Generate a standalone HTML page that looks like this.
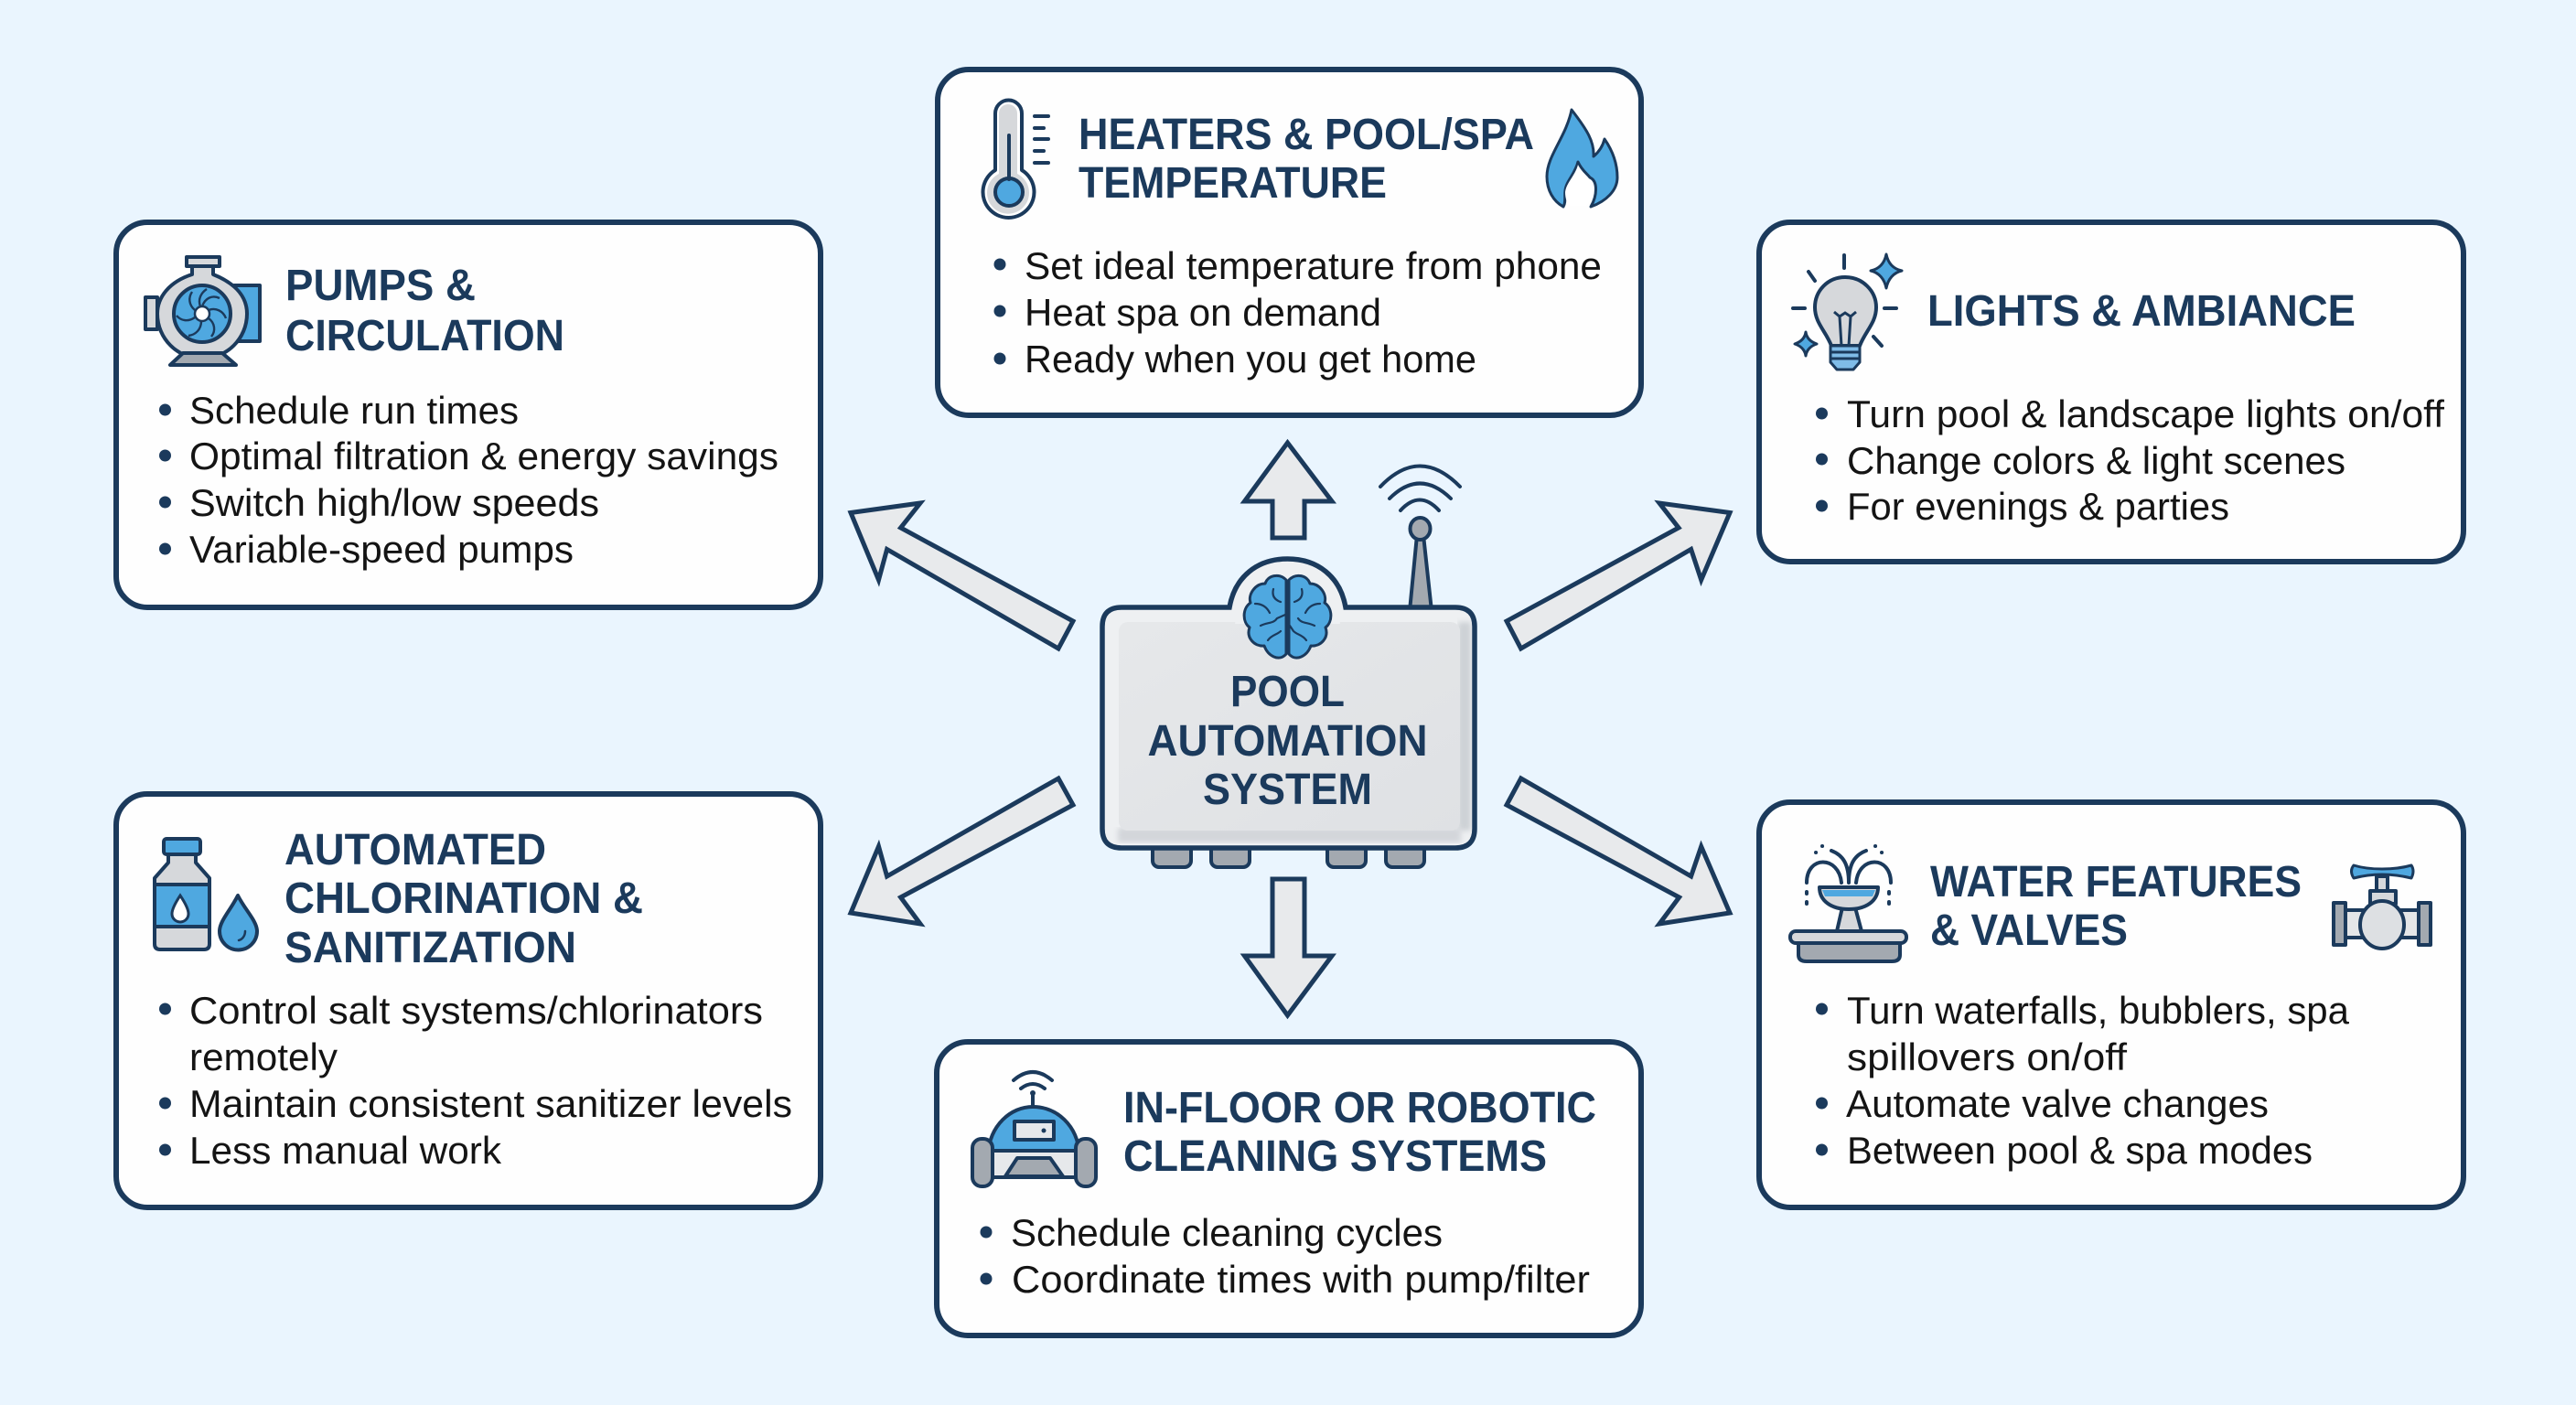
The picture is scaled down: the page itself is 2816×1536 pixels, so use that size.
<!DOCTYPE html>
<html lang="en">
<head>
<meta charset="utf-8">
<title>Pool Automation System</title>
<style>
html,body{margin:0;padding:0;background:#EAF5FE;}
svg{display:block;}
text{font-family:"Liberation Sans",Arial,sans-serif;}
.t{font-size:48px;font-weight:700;fill:#1B3A5C;transform:translateX(-2px);}
.c{transform:none;}
.b{font-size:42px;fill:#141414;transform:translateX(-1px);}
.card{fill:#FEFEFE;stroke:#1B3A5C;stroke-width:6;}
.arrow{fill:#E8EAEC;stroke:#1B3A5C;stroke-width:5;stroke-linejoin:miter;}
.dot{fill:#1B3A5C;}
.n{stroke:#1B3A5C;stroke-width:4;stroke-linejoin:round;stroke-linecap:round;}
.nl{fill:none;stroke:#1B3A5C;stroke-width:4;stroke-linecap:round;stroke-linejoin:round;}
.blue{fill:#4FA8E0;}
.gray{fill:#D6D8DB;}
.dgray{fill:#A3A9B0;}
</style>
</head>
<body>
<svg width="2816" height="1536" viewBox="0 0 2816 1536" xmlns="http://www.w3.org/2000/svg">
<defs>
<linearGradient id="panel" x1="0" y1="0" x2="1" y2="1">
<stop offset="0" stop-color="#E6E8EA"/><stop offset="1" stop-color="#DFE1E4"/>
</linearGradient>
<filter id="soft" x="-5%" y="-5%" width="110%" height="110%"><feGaussianBlur stdDeviation="3"/></filter>
</defs>
<rect width="2816" height="1536" fill="#EAF5FE"/>

<!-- Cards -->
<rect class="card" x="127" y="243" width="770" height="421" rx="34"/>
<rect class="card" x="1025" y="76" width="769" height="378" rx="34"/>
<rect class="card" x="1923" y="243" width="770" height="371" rx="34"/>
<rect class="card" x="127" y="868" width="770" height="452" rx="34"/>
<rect class="card" x="1923" y="877" width="770" height="443" rx="34"/>
<rect class="card" x="1024" y="1139" width="770" height="321" rx="34"/>

<!-- Arrows -->
<polygon class="arrow" points="1407.5,484 1456,548 1426,548 1426,588 1391,588 1391,548 1360.5,548"/>
<polygon class="arrow" points="1391,961 1426,961 1426,1045 1456,1045 1407.5,1110 1360.5,1045 1391,1045"/>
<polygon class="arrow" points="930,560.5 1006,550 984.6,577 1173,679 1157,709 969.6,600.5 960.5,634"/>
<polygon class="arrow" points="1891,560.5 1814,550 1835,577 1647,679 1662.6,709 1848.6,600.5 1859.7,634"/>
<polygon class="arrow" points="1157,851 1173,880 984.6,981 1006,1010 930,998 960.5,925.4 969.6,958"/>
<polygon class="arrow" points="1662.6,851 1647,880 1835.6,981 1814,1010 1891,998 1859.7,925.4 1848.6,958"/>

<!-- Center device -->
<g>
  <path class="dgray n" d="M1541 668 L1549 585 H1556 L1565 668 Z"/>
  <ellipse class="dgray n" cx="1552.5" cy="578" rx="11" ry="12"/>
  <path class="nl" d="M1531 558 Q1552 535 1573 558"/>
  <path class="nl" d="M1519 545 Q1552 512 1586 545"/>
  <path class="nl" d="M1509 532 Q1552 487 1596 532"/>
  <rect class="dgray n" x="1260" y="922" width="42" height="26" rx="7"/>
  <rect class="dgray n" x="1324" y="922" width="42" height="26" rx="7"/>
  <rect class="dgray n" x="1451" y="922" width="42" height="26" rx="7"/>
  <rect class="dgray n" x="1515" y="922" width="42" height="26" rx="7"/>
  <path d="M1226 664 H1344 C1350 630 1375 611 1407.5 611 C1440 611 1465 630 1471 664 H1591 Q1612 664 1612 685 V906 Q1612 927 1591 927 H1226 Q1205 927 1205 906 V685 Q1205 664 1226 664 Z" fill="#EEF0F2" stroke="#1B3A5C" stroke-width="5.5"/>
  <rect x="1594" y="680" width="14" height="228" fill="#CDD1D5" filter="url(#soft)"/>
  <rect x="1222" y="905" width="375" height="16" fill="#D3D6DA" filter="url(#soft)"/>
  <rect x="1223" y="680" width="373" height="228" rx="10" fill="url(#panel)"/>
  <path d="M1350 682 C1356 640 1380 626 1407.5 626 C1435 626 1459 640 1465 682 Z" fill="#EEF0F2"/>
  <path class="blue" stroke="#1B3A5C" stroke-width="3" stroke-linejoin="round" d="M1406 634 C1398 626 1386 629 1383 638 C1372 638 1364 650 1367 659 C1358 665 1358 680 1366 686 C1362 697 1371 707 1382 706 C1386 717 1398 724 1406 715 Z M1409 634 C1417 626 1429 629 1432 638 C1443 638 1451 650 1448 659 C1457 665 1457 680 1449 686 C1453 697 1444 707 1433 706 C1429 717 1417 724 1409 715 Z"/>
  <path fill="none" stroke="#1B3A5C" stroke-width="2.2" stroke-linecap="round" d="M1372 660 C1380 660 1385 664 1388 670 M1392 644 C1390 652 1394 656 1400 658 M1378 684 C1386 680 1392 682 1396 676 L1405 672 M1386 700 C1390 694 1396 694 1400 690 M1443 660 C1435 660 1430 664 1427 670 M1423 644 C1425 652 1421 656 1415 658 M1437 684 C1429 680 1423 682 1419 676 M1428 700 C1424 694 1418 694 1414 690 L1410 684"/>
  <text class="t c" x="1407.5" y="772" text-anchor="middle" textLength="125" lengthAdjust="spacingAndGlyphs">POOL</text>
  <text class="t c" x="1407.5" y="826" text-anchor="middle" textLength="306" lengthAdjust="spacingAndGlyphs">AUTOMATION</text>
  <text class="t c" x="1407.5" y="879" text-anchor="middle" textLength="185" lengthAdjust="spacingAndGlyphs">SYSTEM</text>
</g>

<!-- Pumps card -->
<g>
  <rect class="blue n" x="256" y="312" width="28" height="61"/>
  <rect class="gray n" x="159" y="325" width="13" height="35"/>
  <rect class="gray n" x="172" y="332" width="14" height="21"/>
  <path class="gray n" d="M210 291 H233 V300 C258 310 270 325 270 343 C270 370 248 392 221 392 C194 392 172 370 172 343 C172 325 185 308 210 300 Z"/>
  <path class="dgray n" d="M200 386 L186 399 H258 L243 386 Z"/>
  <rect class="gray n" x="204" y="281" width="36" height="10"/>
  <circle class="blue n" cx="221" cy="343" r="31"/>
  <path fill="none" stroke="#1B3A5C" stroke-width="2.4" d="M221 335 C224 326 232 322 240 326 M228 339 C236 336 244 340 247 348 M228 348 C235 353 236 362 231 368 M220 351 C220 360 214 366 206 367 M213 347 C206 352 198 351 193 345 M213 339 C206 333 206 325 210 319 M219 335 C216 327 220 320 226 316"/>
  <circle cx="221" cy="343" r="8" fill="#fff" stroke="#1B3A5C" stroke-width="2.5"/>
  <text class="t" x="314" y="328" textLength="208" lengthAdjust="spacingAndGlyphs">PUMPS &amp;</text>
  <text class="t" x="314" y="383" textLength="305" lengthAdjust="spacingAndGlyphs">CIRCULATION</text>
  <circle class="dot" cx="180.5" cy="448" r="6.5"/><circle class="dot" cx="180.5" cy="498" r="6.5"/><circle class="dot" cx="180.5" cy="549" r="6.5"/><circle class="dot" cx="180.5" cy="600" r="6.5"/>
  <text class="b" x="208" y="463" textLength="360" lengthAdjust="spacingAndGlyphs">Schedule run times</text>
  <text class="b" x="208" y="513" textLength="644" lengthAdjust="spacingAndGlyphs">Optimal filtration &amp; energy savings</text>
  <text class="b" x="208" y="564" textLength="448" lengthAdjust="spacingAndGlyphs">Switch high/low speeds</text>
  <text class="b" x="208" y="615" textLength="420" lengthAdjust="spacingAndGlyphs">Variable-speed pumps</text>
</g>

<!-- Heaters card -->
<g>
  <path class="gray n" d="M1088 124 A14.5 14.5 0 0 1 1117 124 V186 A28 28 0 1 1 1088 186 Z" style="fill:#fff"/>
  <path class="gray" d="M1092 124 A10 10 0 0 1 1112 124 V190 A23 23 0 1 1 1092 190 Z"/>
  <circle class="blue n" cx="1103" cy="210" r="15"/>
  <line class="nl" x1="1103" y1="148" x2="1103" y2="196"/>
  <path class="nl" d="M1131 127 H1146 M1131 140 H1141 M1131 152 H1146 M1131 165 H1141 M1131 178 H1146"/>
  <path class="blue" stroke="#1B3A5C" stroke-width="3" stroke-linejoin="round" d="M1718 120 C1735 142 1743 155 1742 171 C1748 166 1752 160 1754 152 C1763 165 1768 180 1768 194 C1768 208 1756 220 1739 226 C1746 214 1747 198 1738 194 C1735 190 1729 186 1725 177 C1722 190 1712 198 1711 208 C1710 215 1712 221 1709 226 C1698 220 1691 208 1691 193 C1691 170 1712 150 1718 120 Z"/>
  <path fill="#fff" d="M1725 180 C1722 192 1712 200 1711 210 C1711 217 1713 222 1716 225 L1734 225 C1744 214 1744 200 1736 196 C1733 192 1728 188 1725 180 Z"/>
  <text class="t" x="1181" y="163" textLength="498" lengthAdjust="spacingAndGlyphs">HEATERS &amp; POOL/SPA</text>
  <text class="t" x="1181" y="216" textLength="337" lengthAdjust="spacingAndGlyphs">TEMPERATURE</text>
  <circle class="dot" cx="1093" cy="289" r="6.5"/><circle class="dot" cx="1093" cy="340" r="6.5"/><circle class="dot" cx="1093" cy="392" r="6.5"/>
  <text class="b" x="1121" y="305" textLength="631" lengthAdjust="spacingAndGlyphs">Set ideal temperature from phone</text>
  <text class="b" x="1121" y="356" textLength="390" lengthAdjust="spacingAndGlyphs">Heat spa on demand</text>
  <text class="b" x="1121" y="407" textLength="494" lengthAdjust="spacingAndGlyphs">Ready when you get home</text>
</g>

<!-- Lights card -->
<g>
  <path class="gray" stroke="#1B3A5C" stroke-width="4" d="M2017 303 C1998 303 1984 318 1984 336 C1984 353 1996 362 2002 378 H2033 C2039 362 2051 353 2051 336 C2051 318 2036 303 2017 303 Z"/>
  <path fill="none" stroke="#1B3A5C" stroke-width="3" d="M2005 341 L2011 346 L2017 342 L2023 346 L2029 341 M2011 346 L2013 378 M2023 346 L2021 378"/>
  <path fill="#7FBCE8" stroke="#1B3A5C" stroke-width="3" stroke-linejoin="round" d="M2001 378 H2033 V396 L2026 404 H2008 L2001 396 Z"/>
  <path class="nl" d="M2001 385 H2033 M2001 392 H2033" style="stroke-width:3"/>
  <path class="nl" d="M2016 279 V293 M1977 297 L1984 307 M1960 337 H1973 M2060 337 H2073 M2048 368 L2057 378"/>
  <path class="blue" stroke="#1B3A5C" stroke-width="3" stroke-linejoin="round" d="M2062 278 C2064 288 2070 294 2079 296 C2070 298 2064 305 2062 315 C2060 305 2054 298 2045 296 C2054 294 2060 288 2062 278 Z"/>
  <path class="blue" stroke="#1B3A5C" stroke-width="3" stroke-linejoin="round" d="M1974 363 C1975 370 1980 374 1986 376 C1980 378 1975 382 1974 389 C1973 382 1968 378 1962 376 C1968 374 1973 370 1974 363 Z"/>
  <text class="t" x="2109" y="356" textLength="468" lengthAdjust="spacingAndGlyphs">LIGHTS &amp; AMBIANCE</text>
  <circle class="dot" cx="1991.5" cy="452" r="6.5"/><circle class="dot" cx="1991.5" cy="502" r="6.5"/><circle class="dot" cx="1991.5" cy="553" r="6.5"/>
  <text class="b" x="2020" y="467" textLength="653" lengthAdjust="spacingAndGlyphs">Turn pool &amp; landscape lights on/off</text>
  <text class="b" x="2020" y="518" textLength="545" lengthAdjust="spacingAndGlyphs">Change colors &amp; light scenes</text>
  <text class="b" x="2020" y="568" textLength="418" lengthAdjust="spacingAndGlyphs">For evenings &amp; parties</text>
</g>

<!-- Chlorination card -->
<g>
  <path class="gray n" d="M184 934 H214 V943 L229 960 V1032 Q229 1038 223 1038 H175 Q169 1038 169 1032 V960 L184 943 Z"/>
  <rect class="blue n" x="169" y="967" width="60" height="46"/>
  <rect class="blue n" x="179" y="917" width="40" height="17" rx="3"/>
  <path fill="#fff" stroke="#1B3A5C" stroke-width="3" d="M197 979 C191 988 188 994 188 999 A9 9 0 0 0 206 999 C206 994 203 988 197 979 Z"/>
  <path class="blue n" d="M260 979 C252 995 240 1007 240 1018 A20 20 0 0 0 281 1018 C281 1007 268 995 260 979 Z"/>
  <path fill="none" stroke="#1B3A5C" stroke-width="2.5" stroke-linecap="round" d="M268 1018 C268 1023 265 1027 261 1028"/>
  <text class="t" x="313" y="945" textLength="286" lengthAdjust="spacingAndGlyphs">AUTOMATED</text>
  <text class="t" x="313" y="998" textLength="392" lengthAdjust="spacingAndGlyphs">CHLORINATION &amp;</text>
  <text class="t" x="313" y="1052" textLength="319" lengthAdjust="spacingAndGlyphs">SANITIZATION</text>
  <circle class="dot" cx="180.5" cy="1103" r="6.5"/><circle class="dot" cx="180.5" cy="1206" r="6.5"/><circle class="dot" cx="180.5" cy="1257" r="6.5"/>
  <text class="b" x="208" y="1119" textLength="627" lengthAdjust="spacingAndGlyphs">Control salt systems/chlorinators</text>
  <text class="b" x="208" y="1170" textLength="162" lengthAdjust="spacingAndGlyphs">remotely</text>
  <text class="b" x="208" y="1221" textLength="659" lengthAdjust="spacingAndGlyphs">Maintain consistent sanitizer levels</text>
  <text class="b" x="208" y="1272" textLength="341" lengthAdjust="spacingAndGlyphs">Less manual work</text>
</g>

<!-- Water card -->
<g>
  <path class="nl" d="M2021 965 C2021 945 2015 935 2002 930 M2021 965 C2021 945 2027 935 2040 930"/>
  <path class="nl" d="M1975 965 C1975 935 2010 935 2013 965 M2067 965 C2067 935 2032 935 2029 965"/>
  <path class="nl" d="M1992 925 h.1 M1985 932 h.1 M2050 925 h.1 M2057 932 h.1 M1975 975 v2 M1975 986 v2 M2065 975 v2 M2065 986 v2"/>
  <path class="n" d="M2008 1018 L2014 992 H2028 L2035 1018 Z" style="fill:#D6D8DB"/>
  <path class="gray n" d="M1989 970 H2053 C2053 985 2040 994 2021 994 C2002 994 1989 985 1989 970 Z"/>
  <path class="blue" d="M1992 973 H2050 L2047 980 H1995 Z"/>
  <path class="dgray n" d="M1966 1030 H2077 V1044 Q2077 1051 2068 1051 H1975 Q1966 1051 1966 1044 Z"/>
  <rect class="gray n" x="1957" y="1018" width="127" height="13" rx="6"/>
  <rect class="gray n" x="2598" y="958" width="12" height="18"/>
  <path class="blue" stroke="#1B3A5C" stroke-width="3" stroke-linejoin="round" d="M2573 946 Q2586 950 2604 950 Q2622 950 2636 946 Q2640 952 2636 960 Q2620 956 2604 956 Q2588 956 2573 960 Q2568 952 2573 946 Z"/>
  <rect class="gray n" x="2591" y="974" width="28" height="14"/>
  <rect class="gray n" x="2562" y="995" width="84" height="30" style="fill:#E4E6E8"/>
  <rect class="dgray n" x="2551" y="987" width="13" height="46"/>
  <rect class="dgray n" x="2644" y="987" width="13" height="46"/>
  <ellipse class="gray n" cx="2604" cy="1011" rx="24" ry="26" style="fill:#DDE0E3"/>
  <text class="t" x="2112" y="980" textLength="406" lengthAdjust="spacingAndGlyphs">WATER FEATURES</text>
  <text class="t" x="2112" y="1033" textLength="216" lengthAdjust="spacingAndGlyphs">&amp; VALVES</text>
  <circle class="dot" cx="1991.5" cy="1103" r="6.5"/><circle class="dot" cx="1991.5" cy="1206" r="6.5"/><circle class="dot" cx="1991.5" cy="1257" r="6.5"/>
  <text class="b" x="2020" y="1119" textLength="549" lengthAdjust="spacingAndGlyphs">Turn waterfalls, bubblers, spa</text>
  <text class="b" x="2020" y="1170" textLength="306" lengthAdjust="spacingAndGlyphs">spillovers on/off</text>
  <text class="b" x="2019" y="1221" textLength="462" lengthAdjust="spacingAndGlyphs">Automate valve changes</text>
  <text class="b" x="2020" y="1272" textLength="509" lengthAdjust="spacingAndGlyphs">Between pool &amp; spa modes</text>
</g>

<!-- Robot card -->
<g>
  <path class="nl" d="M1108 1181 Q1129 1163 1150 1181"/>
  <path class="nl" d="M1116 1190 Q1129 1180 1142 1190"/>
  <path class="nl" d="M1129 1195 V1210"/>
  <circle class="dot" cx="1129" cy="1195" r="3"/>
  <path class="blue n" d="M1080 1262 C1082 1230 1105 1210 1129 1210 C1155 1210 1178 1230 1180 1262 Z"/>
  <rect x="1084" y="1258" width="92" height="29" fill="#E6E8EB" stroke="#1B3A5C" stroke-width="4"/>
  <path class="dgray n" d="M1099 1286 L1112 1266 H1148 L1162 1286 Z"/>
  <rect class="n" x="1109" y="1226" width="43" height="20" fill="#E6E8EB"/>
  <circle class="dot" cx="1141" cy="1236" r="2.5"/>
  <rect class="dgray n" x="1063" y="1245" width="22" height="52" rx="10"/>
  <rect class="dgray n" x="1176" y="1245" width="22" height="52" rx="10"/>
  <text class="t" x="1230" y="1227" textLength="517" lengthAdjust="spacingAndGlyphs">IN-FLOOR OR ROBOTIC</text>
  <text class="t" x="1230" y="1280" textLength="463" lengthAdjust="spacingAndGlyphs">CLEANING SYSTEMS</text>
  <circle class="dot" cx="1078" cy="1347" r="6.5"/><circle class="dot" cx="1078" cy="1398" r="6.5"/>
  <text class="b" x="1106" y="1362" textLength="472" lengthAdjust="spacingAndGlyphs">Schedule cleaning cycles</text>
  <text class="b" x="1107" y="1413" textLength="632" lengthAdjust="spacingAndGlyphs">Coordinate times with pump/filter</text>
</g>
</svg>
</body>
</html>
